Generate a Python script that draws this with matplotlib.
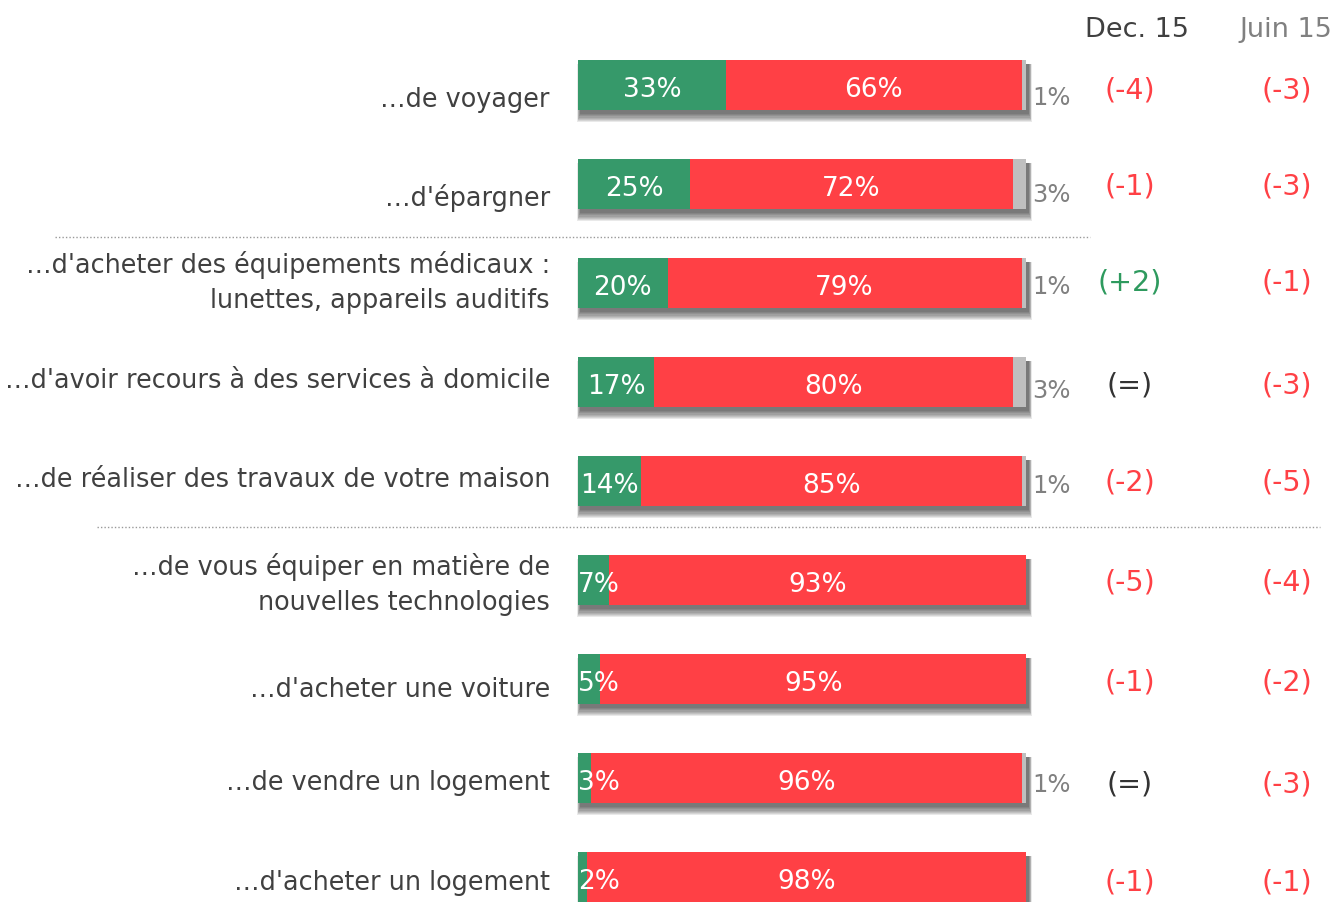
import matplotlib
matplotlib.use("Agg")
import matplotlib.pyplot as plt
from matplotlib.patches import Rectangle

plt.rcParams['font.family'] = ['DejaVu Sans']

# ---------------- data ----------------
categories = [
    "…de voyager",
    "…d'épargner",
    "…d'acheter des équipements médicaux :\nlunettes, appareils auditifs",
    "…d'avoir recours à des services à domicile",
    "…de réaliser des travaux de votre maison",
    "…de vous équiper en matière de\nnouvelles technologies",
    "…d'acheter une voiture",
    "…de vendre un logement",
    "…d'acheter un logement",
]
yes_values = [33, 25, 20, 17, 14, 7, 5, 3, 2]
no_values = [66, 72, 79, 80, 85, 93, 95, 96, 98]
nsp_values = [1, 3, 1, 3, 1, 0, 0, 1, 0]
dec15_changes = ["(-4)", "(-1)", "(+2)", "(=)", "(-2)", "(-5)", "(-1)", "(=)", "(-1)"]
juin15_changes = ["(-3)", "(-3)", "(-1)", "(-3)", "(-5)", "(-4)", "(-2)", "(-3)", "(-1)"]
column_headers = ["Dec. 15", "Juin 15"]

# ---------------- layout (pixel offsets per row) ----------------
label_baseline_px = [21, 21, 24, 5, 5, 29, 17, 11, 12]   # baseline of last line vs bar centre
remainder_baseline_px = [19, 17, 10, 15, 11, 13, 13, 13, 13]
change_center_px = [5, 1, -1, 3, 1, 2, 3, 6, 5]

# ---------------- style ----------------
GREEN = "#36996A"
RED = "#FF4045"
GREY = "#BFBFBF"
TXT = "#404040"
GREY_TXT = "#808080"
CHANGE_GREEN = "#2E9A5E"
NUM_SIZE, REM_SIZE = 19, 17.5

W, H = 1338, 903
fig = plt.figure(figsize=(W / 100, H / 100), dpi=100)
x0_px, x1_px = 578, 1026
ax = fig.add_axes([x0_px / W, 0, (x1_px - x0_px) / W, 1])
row0_px, row_step_px = 86, 99
ax.set_xlim(0, 100)
ax.set_ylim((H - row0_px) / row_step_px, -row0_px / row_step_px)
ax.axis("off")

pxx = 100 / (x1_px - x0_px)   # one pixel in x data units
pxy = 1 / row_step_px          # one pixel in y data units
bar_h = 50 * pxy


def xpx(p):
    return (p - x0_px) * pxx


n = len(categories)
for i in range(n):
    y = i
    total = yes_values[i] + no_values[i] + nsp_values[i]
    top = y - bar_h / 2
    bottom = y + bar_h / 2
    # soft blurred shadow below each bar
    for k in range(8):
        left = (2 - 0.4 * k) * pxx
        right = total + (3 + 0.4 * k) * pxx
        t = top + 4 * pxy
        b = bottom + (4 + 1.2 * k) * pxy
        ax.add_patch(Rectangle((left, t), right - left, b - t,
                               facecolor="black", edgecolor="none", alpha=0.085,
                               zorder=1, clip_on=False))
    ax.barh(y, yes_values[i], height=bar_h, left=0, color=GREEN, zorder=3)
    ax.barh(y, no_values[i], height=bar_h, left=yes_values[i], color=RED, zorder=3)
    if nsp_values[i] > 0:
        ax.barh(y, nsp_values[i], height=bar_h, left=yes_values[i] + no_values[i],
                color=GREY, zorder=3)

    # labels inside the bars
    nb = y + 11 * pxy
    if yes_values[i] >= 10:
        ax.text(yes_values[i] / 2, nb, f"{yes_values[i]}%", ha="center", va="baseline",
                color="white", fontsize=NUM_SIZE, zorder=4)
    else:
        ax.text(0, nb, f"{yes_values[i]}%", ha="left", va="baseline",
                color="white", fontsize=NUM_SIZE, zorder=4)
    ax.text(yes_values[i] + no_values[i] / 2, nb, f"{no_values[i]}%", ha="center",
            va="baseline", color="white", fontsize=NUM_SIZE, zorder=4)
    if nsp_values[i] > 0:
        ax.text(xpx(1032), y + remainder_baseline_px[i] * pxy, f"{nsp_values[i]}%",
                ha="left", va="baseline", color=GREY_TXT, fontsize=REM_SIZE,
                clip_on=False)

    # category label (each line drawn separately, 35 px apart)
    lines = categories[i].split("\n")
    for j, line in enumerate(lines):
        by = y + (label_baseline_px[i] - 35 * (len(lines) - 1 - j)) * pxy
        ax.text(xpx(550), by, line, ha="right", va="baseline", color=TXT,
                fontsize=18.4, clip_on=False)

    # change columns
    cy = y + change_center_px[i] * pxy
    d = dec15_changes[i]
    dcol = RED if d.startswith("(-") else (CHANGE_GREEN if d.startswith("(+") else "#333333")
    ax.text(xpx(1130), cy, d, ha="center", va="center", color=dcol, fontsize=20.5,
            clip_on=False)
    j2 = juin15_changes[i]
    jcol = RED if j2.startswith("(-") else (CHANGE_GREEN if j2.startswith("(+") else "#333333")
    ax.text(xpx(1287), cy, j2, ha="center", va="center", color=jcol, fontsize=20.5,
            clip_on=False)

# column headers
hy = (37 - row0_px) * pxy
ax.text(xpx(1137), hy, column_headers[0], ha="center", va="baseline", color=TXT,
        fontsize=19.5, clip_on=False)
ax.text(xpx(1286), hy, column_headers[1], ha="center", va="baseline", color=GREY_TXT,
        fontsize=19.5, clip_on=False)

# dotted separators
sep1 = (238 - row0_px) * pxy
sep2 = (528 - row0_px) * pxy
ax.plot([xpx(55), xpx(1090)], [sep1, sep1], linestyle=(0, (1, 1.5)), color="#999999",
        linewidth=1, clip_on=False)
ax.plot([xpx(97), xpx(1320)], [sep2, sep2], linestyle=(0, (1, 1.5)), color="#999999",
        linewidth=1, clip_on=False)

fig.savefig("out.png", dpi=100)
